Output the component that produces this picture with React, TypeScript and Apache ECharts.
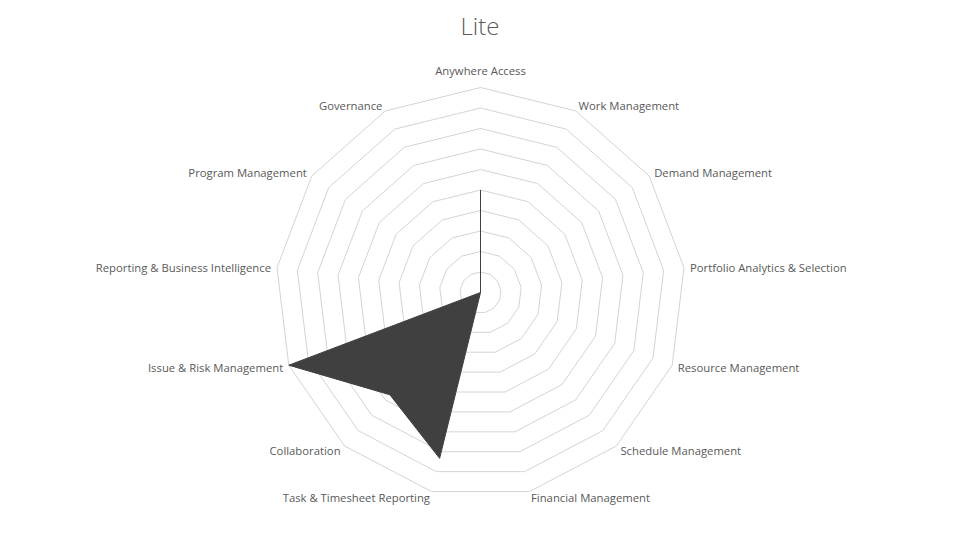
import React, { useEffect, useRef } from "react";
import * as echarts from "echarts";

// Categories listed clockwise starting from the top, as shown in the picture
const categories = [
  "Anywhere Access",
  "Work Management",
  "Demand Management",
  "Portfolio Analytics & Selection",
  "Resource Management",
  "Schedule Management",
  "Financial Management",
  "Task & Timesheet Reporting",
  "Collaboration",
  "Issue & Risk Management",
  "Reporting & Business Intelligence",
  "Program Management",
  "Governance",
];
const values = [3, 0, 0, 0, 0, 0, 0, 5, 4, 6, 0, 0, 0];
const maxValue = 6;
const title = "Lite";

export default function App() {
  const ref = useRef<HTMLDivElement>(null);
  useEffect(() => {
    if (!ref.current) return;
    const chart = echarts.init(ref.current, null, { renderer: "svg" });
    // ECharts radar runs counter-clockwise; reverse all but the first to go clockwise
    const order = [0, ...categories.map((_, i) => i).slice(1).reverse()];
    const indicator = order.map((i) => ({ name: categories[i], max: maxValue }));
    const data = order.map((i) => values[i]);
    chart.setOption({
      animation: false,
      backgroundColor: "#ffffff",
      title: {
        text: title,
        left: "center",
        top: 8,
        textStyle: {
          fontFamily: "Open Sans",
          fontWeight: 300,
          fontSize: 24,
          color: "#595959",
        },
      },
      radar: {
        center: [480.5, 292.5],
        radius: 205,
        startAngle: 90,
        splitNumber: 10,
        shape: "polygon",
        nameGap: 6,
        indicator,
        axisName: {
          color: "#595959",
          fontFamily: "Open Sans",
          fontSize: 11.3,
          padding: [0, 0, 6, 0],
        },
        axisLine: { show: false },
        axisTick: { show: false },
        splitArea: { show: false },
        splitLine: { lineStyle: { color: "#d4d4d4", width: 1 } },
      },
      series: [
        {
          type: "radar",
          symbol: "none",
          lineStyle: { color: "#404040", width: 1 },
          areaStyle: { color: "#404040", opacity: 1 },
          data: [{ value: data, name: title }],
        },
      ],
    });
    return () => chart.dispose();
  }, []);
  return (
    <div
      ref={ref}
      style={{ position: "absolute", left: 0, top: 0, width: 960, height: 540 }}
    />
  );
}
